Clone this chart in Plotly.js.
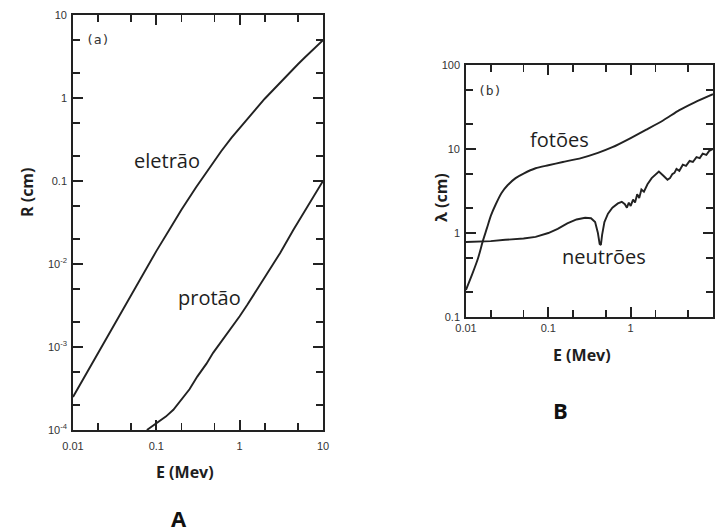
<!DOCTYPE html>
<html>
<head>
<meta charset="utf-8">
<script src="https://cdn.plot.ly/plotly-3.0.1.min.js"></script>
<style>
  html, body { margin: 0; padding: 0; background: #fff; }
  #chart { width: 715px; height: 532px; }
</style>
</head>
<body>
<div id="chart"></div>
<script>
// ---------- DATA ----------
// Panel A: range R (cm) vs energy E (MeV)
const electronE = [0.01, 0.015, 0.02, 0.03, 0.04, 0.05, 0.06, 0.08, 0.1, 0.15, 0.2, 0.3, 0.4, 0.5, 0.6, 0.8, 1, 1.5, 2, 3, 4, 5, 6, 8, 10];
const electronR = [2.5e-4, 5.1e-4, 8.6e-4, 1.76e-3, 2.94e-3, 4.3e-3, 5.9e-3, 9.6e-3, 1.43e-2, 2.8e-2, 4.5e-2, 8.4e-2, 0.129, 0.177, 0.228, 0.333, 0.437, 0.70, 0.98, 1.51, 2.04, 2.55, 3.05, 4.03, 4.98];

const protonE = [0.077, 0.1, 0.13, 0.16, 0.19, 0.25, 0.31, 0.4, 0.48, 0.6, 0.77, 1.0, 1.23, 1.5, 1.9, 2.4, 3.05, 4.4, 6.5, 10];
const protonR = [1e-4, 1.2e-4, 1.45e-4, 1.75e-4, 2.2e-4, 3.1e-4, 4.4e-4, 6.3e-4, 8.5e-4, 1.15e-3, 1.6e-3, 2.35e-3, 3.2e-3, 4.4e-3, 6.4e-3, 9.3e-3, 0.0135, 0.0257, 0.049, 0.1];

// Panel B: mean free path lambda (cm) vs energy E (MeV)
const photonE = [0.01, 0.012, 0.014, 0.016, 0.018, 0.02, 0.023, 0.027, 0.032, 0.04, 0.05, 0.07, 0.1, 0.15, 0.25, 0.4, 0.6, 1, 1.55, 2.5, 3.9, 6, 10];
const photonL = [0.21, 0.33, 0.5, 0.8, 1.15, 1.6, 2.2, 3.0, 3.7, 4.5, 5.1, 5.9, 6.4, 7.0, 7.8, 9.0, 10.5, 13.5, 17, 22, 29, 36, 45];

const neutronE = [0.01, 0.02, 0.03, 0.05, 0.07, 0.1, 0.13, 0.17, 0.22, 0.28, 0.33, 0.37, 0.40, 0.42, 0.435, 0.45, 0.48, 0.53, 0.6, 0.7, 0.78, 0.85, 0.9, 0.95, 1.0, 1.07, 1.13, 1.2, 1.27, 1.35, 1.45, 1.6, 1.8, 2.0, 2.2, 2.5, 2.8, 3.0, 3.2, 3.4, 3.6, 3.9, 4.3, 4.7, 5.2, 5.7, 6.3, 6.9, 7.5, 8.3, 9.0, 10];
const neutronL = [0.78, 0.80, 0.83, 0.86, 0.90, 1.0, 1.12, 1.3, 1.45, 1.52, 1.5, 1.35, 1.0, 0.74, 0.72, 0.95, 1.35, 1.7, 2.0, 2.25, 2.35, 2.2, 2.0, 2.3, 2.1, 2.5, 2.3, 2.9, 2.6, 3.3, 3.1, 3.8, 4.5, 5.0, 5.4, 4.8, 4.3, 4.5, 5.0, 5.2, 5.8, 5.5, 6.5, 6.3, 7.2, 7.0, 8.0, 7.8, 8.8, 8.5, 9.5, 10];

// Tick labels
const xTickVals = [0.01, 0.1, 1, 10];
const xTickText = ['0.01', '0.1', '1', '10'];
const yATickVals = [1e-4, 1e-3, 1e-2, 0.1, 1, 10];
const yATickText = ['10<sup>-4</sup>', '10<sup>-3</sup>', '10<sup>-2</sup>', '0.1', '1', '10'];
const yBTickVals = [0.1, 1, 10, 100];
const yBTickText = ['0.1', '1', '10', '100'];

// ---------- STYLE ----------
const W = 715, H = 532;
const px = x => x / W;
const py = y => 1 - y / H;
const ink = '#222';
const lineStyle = { color: ink, width: 1.9 };

function axis(domain, range, tv, tt, anchor, standoff) {
  return {
    type: 'log', range: range, domain: domain, anchor: anchor,
    tickmode: 'array', tickvals: tv, ticktext: tt,
    ticks: 'inside', ticklen: 10, tickwidth: 1.7, tickcolor: ink,
    showline: true, linecolor: ink, linewidth: 1.8, mirror: 'allticks',
    showgrid: false, zeroline: false, fixedrange: true,
    ticklabelstandoff: standoff,
    tickfont: { family: 'Liberation Sans, Arial, sans-serif', size: 11, color: '#333' },
    minor: { tickmode: 'linear', dtick: 'D2', ticks: 'inside', ticklen: 7, tickwidth: 1.6, tickcolor: ink, showgrid: false }
  };
}

const traces = [
  { x: electronE, y: electronR, xaxis: 'x', yaxis: 'y', mode: 'lines', line: lineStyle, hoverinfo: 'skip' },
  { x: protonE, y: protonR, xaxis: 'x', yaxis: 'y', mode: 'lines', line: lineStyle, hoverinfo: 'skip' },
  { x: photonE, y: photonL, xaxis: 'x2', yaxis: 'y2', mode: 'lines', line: Object.assign({ shape: 'spline', smoothing: 0.6 }, lineStyle), hoverinfo: 'skip' },
  { x: neutronE, y: neutronL, xaxis: 'x2', yaxis: 'y2', mode: 'lines', line: lineStyle, hoverinfo: 'skip' }
];

const labelFont = { family: 'Open Sans, sans-serif', size: 20, color: '#1e1e1e' };
const titleFont = { family: 'Open Sans, sans-serif', size: 16, color: '#1e1e1e', weight: 'bold' };
const panelFont = { family: 'Open Sans, sans-serif', size: 22, color: '#111', weight: 'bold' };
const tagFont = { family: 'DejaVu Sans Mono, monospace', size: 13, color: '#333' };

function ann(text, x, y, font, extra) {
  return Object.assign({ text: text, xref: 'paper', yref: 'paper', x: px(x), y: py(y), xanchor: 'center', yanchor: 'middle', showarrow: false, font: font }, extra || {});
}

const layout = {
  width: W, height: H,
  margin: { l: 0, r: 0, t: 0, b: 0 },
  paper_bgcolor: '#fff', plot_bgcolor: '#fff',
  showlegend: false,
  xaxis: axis([px(73), px(323)], [-2, 1], xTickVals, xTickText, 'y', 5),
  yaxis: axis([py(430), py(15)], [-4, 1], yATickVals, yATickText, 'x', 2),
  xaxis2: axis([px(466), px(713)], [-2, 1], xTickVals, xTickText, 'y2', 0),
  yaxis2: axis([py(317), py(65)], [-1, 2], yBTickVals, yBTickText, 'x2', 2),
  annotations: [
    ann('eletrão', 167, 160, labelFont),
    ann('protão', 209, 297, labelFont),
    ann('fotões', 559, 140, labelFont),
    ann('neutrões', 604, 257, labelFont),
    ann('(a)', 97, 39, tagFont),
    ann('(b)', 489, 91, tagFont),
    ann('E (Mev)', 185, 472, titleFont),
    ann('E (Mev)', 582, 355, titleFont),
    ann('R (cm)', 27, 192, titleFont, { textangle: -90 }),
    ann('λ (cm)', 441, 198, titleFont, { textangle: -90 }),
    ann('A', 179, 518, panelFont),
    ann('B', 560, 410, panelFont)
  ]
};

Plotly.newPlot('chart', traces, layout, { staticPlot: true, displayModeBar: false });
</script>
</body>
</html>
